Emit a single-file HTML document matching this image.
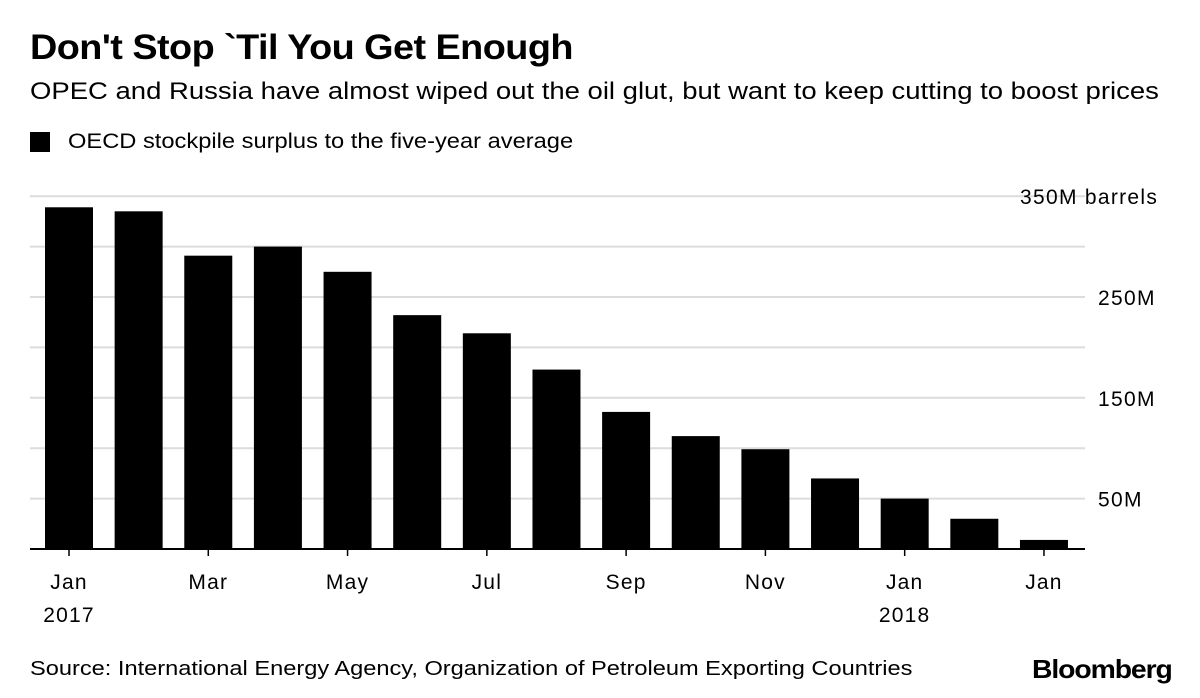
<!DOCTYPE html>
<html><head><meta charset="utf-8">
<style>
body{margin:0;background:#fff;font-family:"Liberation Sans",sans-serif;}
#wrap{position:relative;width:1200px;height:698px;overflow:hidden;}
.t{position:absolute;white-space:nowrap;color:#000;transform-origin:0 0;}
</style></head>
<body>
<div id="wrap">
<div class="t" style="left:30px;top:28px;font-size:35px;font-weight:bold;letter-spacing:-0.5px;transform:scaleX(1.08)">Don't Stop `Til You Get Enough</div>
<div class="t" style="left:30px;top:78px;font-size:24px;transform:scaleX(1.145)">OPEC and Russia have almost wiped out the oil glut, but want to keep cutting to boost prices</div>
<div style="position:absolute;left:30px;top:130px;">
<div style="position:absolute;left:0;top:2px;width:20px;height:20px;background:#000"></div>
<div class="t" style="left:38px;top:0;font-size:21px;transform:scaleX(1.127)">OECD stockpile surplus to the five-year average</div>
</div>
<svg id="chart" width="1200" height="698" style="position:absolute;left:0;top:0"></svg>
<div class="t" style="left:30px;top:658px;font-size:20px;transform:scaleX(1.18)">Source: International Energy Agency, Organization of Petroleum Exporting Countries</div>
<div class="t" style="left:1032px;top:654px;font-size:26px;font-weight:bold;letter-spacing:-1px;transform:scaleX(1.09)">Bloomberg</div>
</div>
<script>
const categories=["Jan 2017","Feb","Mar","Apr","May","Jun","Jul","Aug","Sep","Oct","Nov","Dec","Jan 2018","Feb","Jan"];
const values=[339,335,291,300,275,232,214,178,136,112,99,70,50,30,9];
const yTicks=[50,150,250,350];
const yGrid=[50,100,150,200,250,300,350];
const xLabels=[["Jan","2017"],null,["Mar"],null,["May"],null,["Jul"],null,["Sep"],null,["Nov"],null,["Jan","2018"],null,["Jan"]];
const svg=document.getElementById('chart');
const NS='http://www.w3.org/2000/svg';
const y0=549,pxPer=1.008;
const y=v=>y0-v*pxPer;
const step=69.64,x0=45,bw=48;
const x=i=>x0+i*step;
function mk(t,a){const e=document.createElementNS(NS,t);for(const k in a)e.setAttribute(k,a[k]);svg.appendChild(e);return e;}
yGrid.forEach(v=>{const l=mk('line',{x1:30,x2:1085,y1:y(v),y2:y(v),stroke:'#dcdcdc','stroke-width':2});

});
yTicks.forEach(v=>{const t=mk('text',{x:1098,y:y(v)+8,'font-size':21,'letter-spacing':'1.3px','font-family':'Liberation Sans, sans-serif'});
t.textContent=v===350?'350M barrels':v+'M';
if(v===350)t.setAttribute('x',1020);

});
values.forEach((v,i)=>{const r=mk('rect',{x:x(i),y:y(v),width:bw,height:y0-y(v),fill:'#000'});

});
const ax=mk('line',{x1:30,x2:1085,y1:y0,y2:y0,stroke:'#000','stroke-width':2});


xLabels.forEach((lb,i)=>{if(!lb)return;const cx=x(i)+bw/2;
const tk=mk('line',{x1:cx,x2:cx,y1:y0,y2:y0+7,stroke:'#000','stroke-width':1.5});


lb.forEach((s,j)=>{const t=mk('text',{x:cx,y:589+j*33,'font-size':21,'letter-spacing':'1.2px','text-anchor':'middle','font-family':'Liberation Sans, sans-serif'});
t.textContent=s;

});});
</script>
</body></html>
